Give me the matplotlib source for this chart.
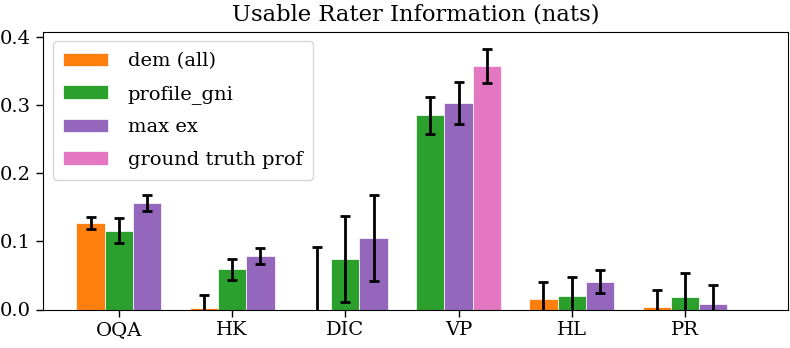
import numpy as np
import matplotlib
matplotlib.use("Agg")
import matplotlib.pyplot as plt

categories = ["OQA", "HK", "DIC", "VP", "HL", "PR"]
series = ["dem (all)", "profile_gni", "max ex", "ground truth prof"]
colors = ["tab:orange", "tab:green", "tab:purple", "tab:pink"]
nan = np.nan
dem_all = [0.127, 0.002, 0.0, nan, 0.0154, 0.004]
dem_all_err = [0.0093, 0.019, 0.092, nan, 0.0255, 0.025]
profile_gni = [0.116, 0.059, 0.074, 0.2855, 0.0203, 0.018]
profile_gni_err = [0.018, 0.0155, 0.063, 0.0275, 0.027, 0.036]
max_ex = [0.157, 0.0787, 0.105, 0.304, 0.041, 0.0076]
max_ex_err = [0.012, 0.0118, 0.063, 0.031, 0.017, 0.028]
ground_truth = [nan, nan, nan, 0.358, nan, nan]
ground_truth_err = [nan, nan, nan, 0.025, nan, nan]

values = [dem_all, profile_gni, max_ex, ground_truth]
errors = [dem_all_err, profile_gni_err, max_ex_err, ground_truth_err]

plt.rcParams['font.family'] = ['DejaVu Serif']
plt.rcParams['font.size'] = 14
plt.rcParams['xtick.major.size'] = 5
plt.rcParams['ytick.major.size'] = 5
plt.rcParams['xtick.major.width'] = 1.0
plt.rcParams['ytick.major.width'] = 1.0

fig = plt.figure(figsize=(7.9, 3.48), dpi=100)
ax = fig.add_axes([43/790, 1 - 309.5/348, (788-43)/790, (309.5-31.7)/348])

width = 0.25
handles = [None] * len(series)
for ci, cat in enumerate(categories):
    present = [s for s in range(len(series)) if not np.isnan(values[s][ci])]
    n = len(present)
    for k, s in enumerate(present):
        x = ci + (k - (n - 1) / 2) * width
        b = ax.bar(x, values[s][ci], width, color=colors[s], edgecolor='white',
                   linewidth=0.5, label=series[s])
        ax.errorbar(x, values[s][ci], yerr=errors[s][ci], fmt='none', ecolor='black',
                    elinewidth=2, capsize=3.3, capthick=2, zorder=3)
        handles[s] = b

ax.set_xticks(range(len(categories)))
ax.set_xticklabels(categories)
ax.set_xlim(-0.67, 5.91)
ax.set_ylim(0, 0.4085)
ax.set_yticks([0.0, 0.1, 0.2, 0.3, 0.4])
ax.set_title("Usable Rater Information (nats)", pad=8, fontsize=16.3)
ax.legend(handles, series, loc='upper left', handlelength=2.3,
          labelspacing=0.75, handletextpad=1.0, borderpad=0.55)

fig.savefig("out.png", dpi=100)
